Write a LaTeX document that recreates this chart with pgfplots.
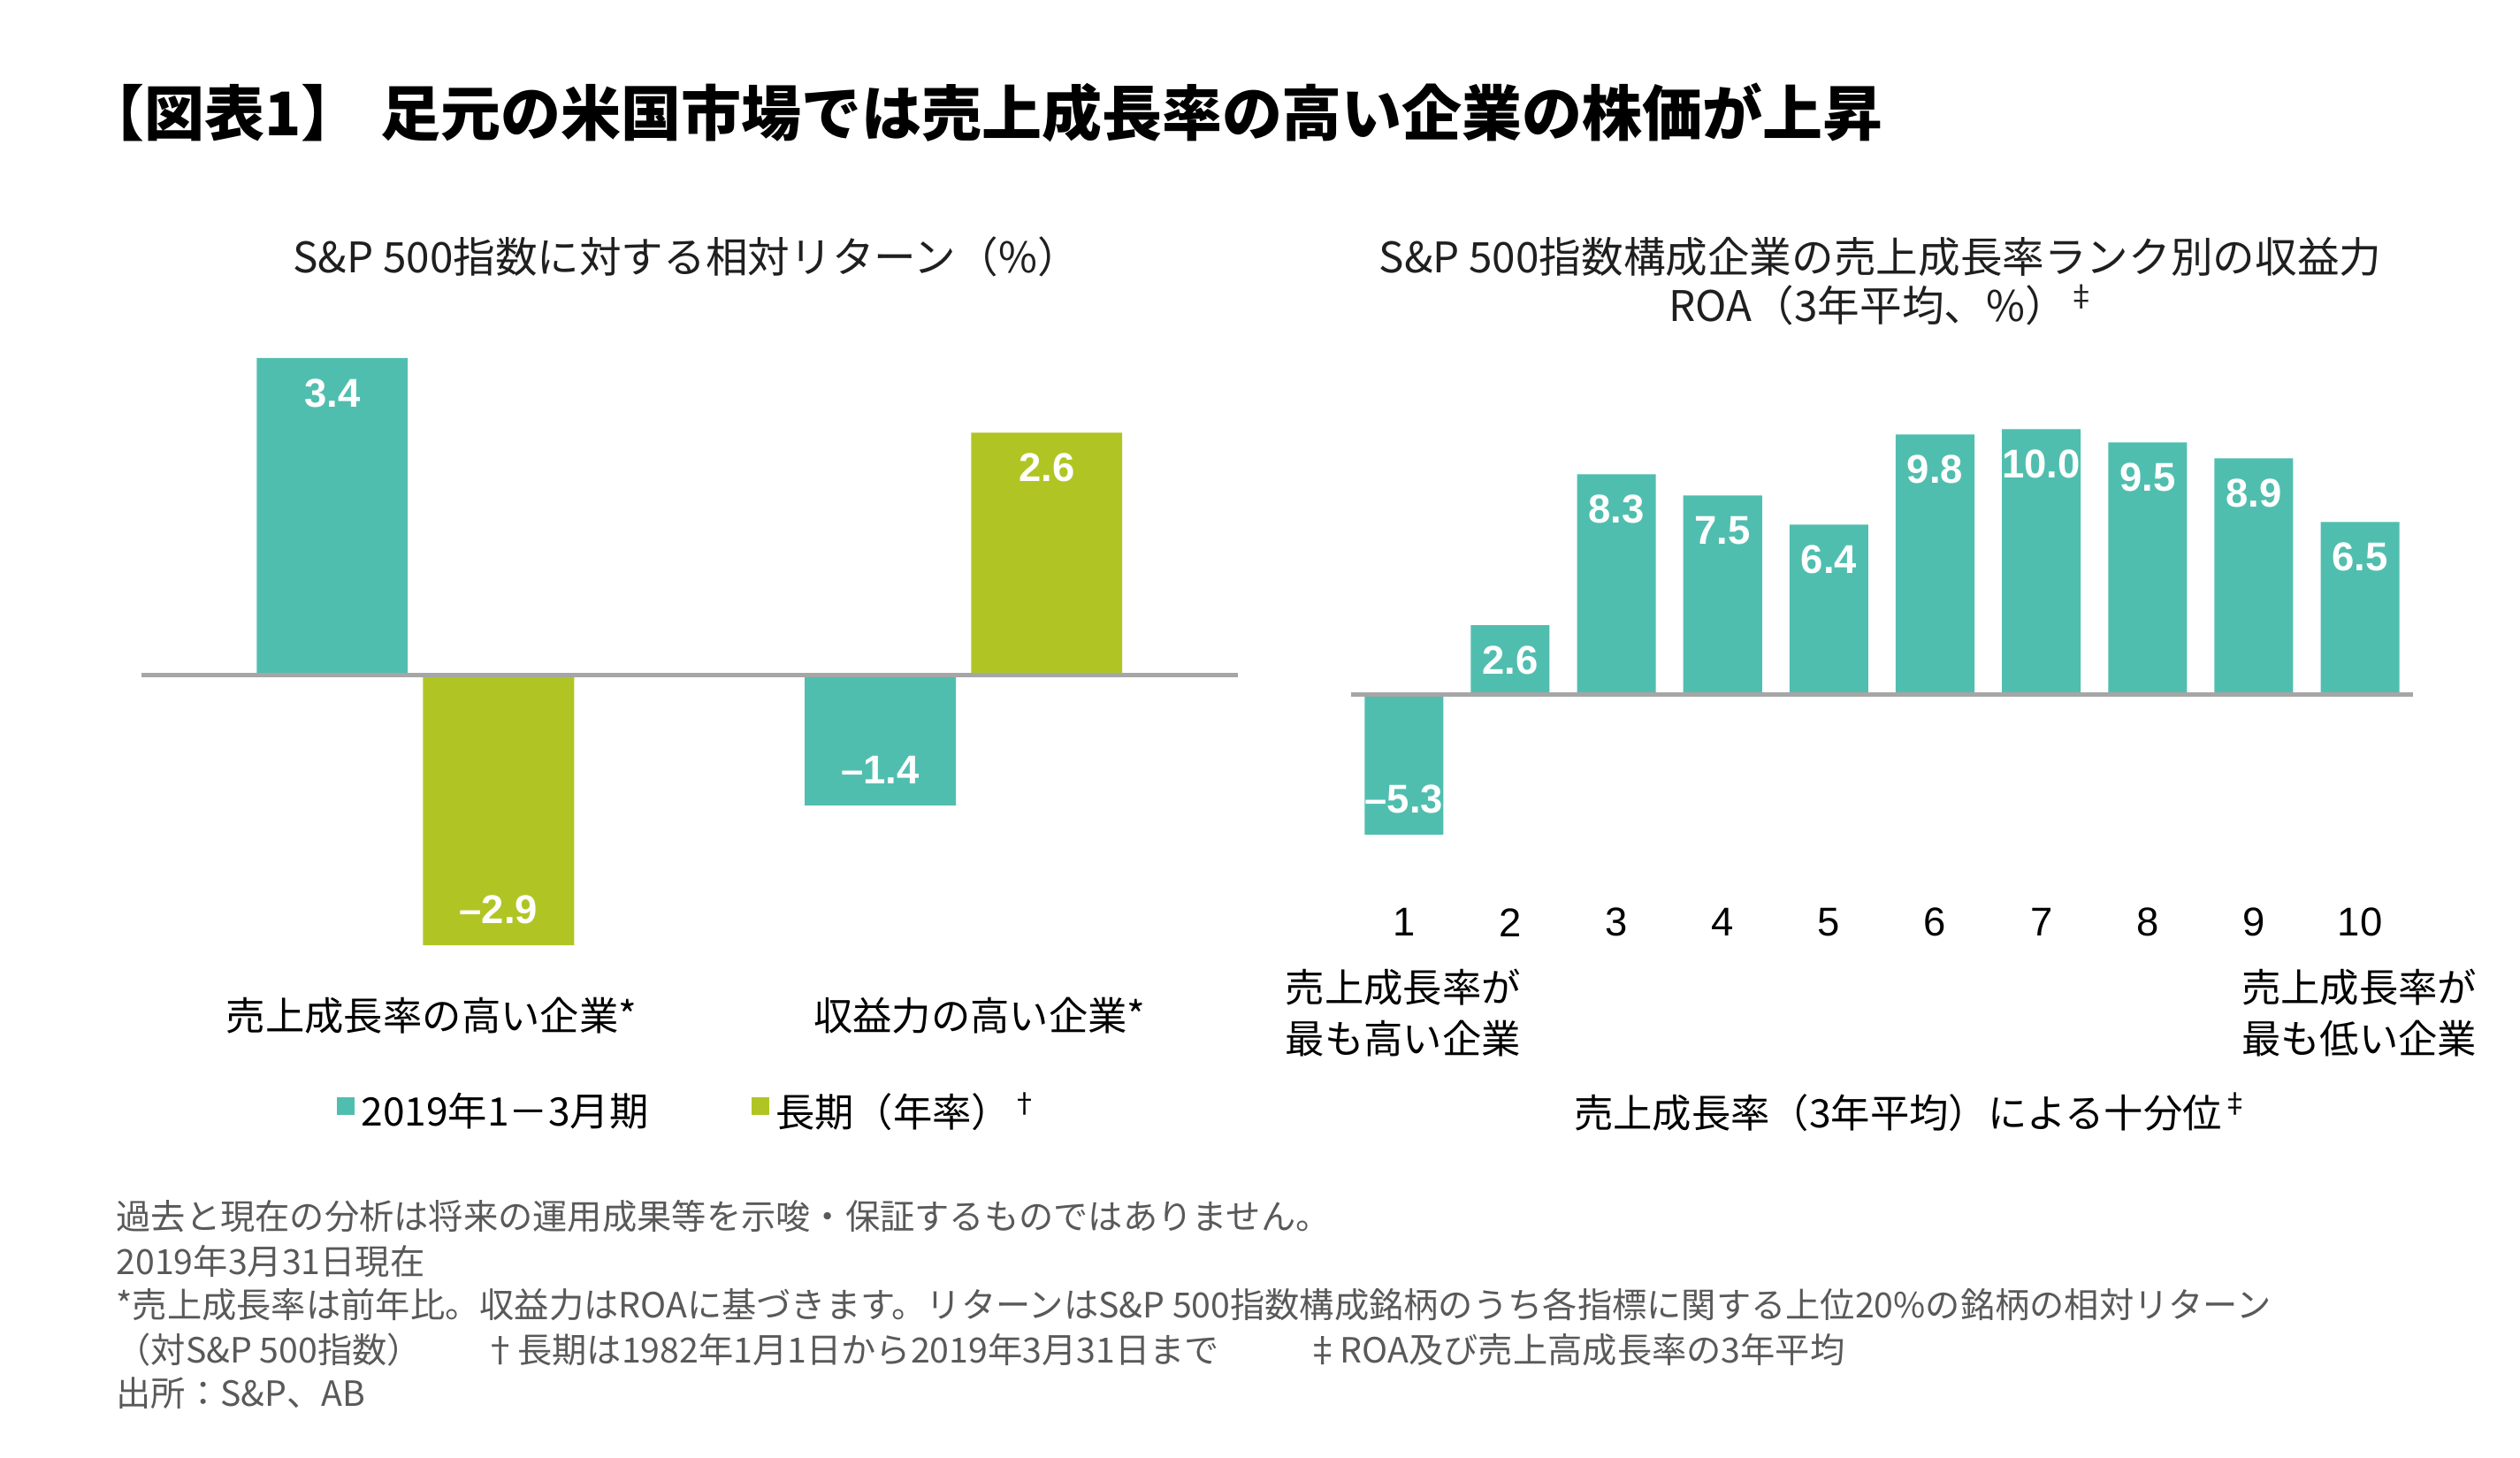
\documentclass[border=0pt]{standalone}
\usepackage{fontspec}
\usepackage{pgfplots}
\pgfplotsset{compat=1.18}
\setmainfont{Noto Sans CJK JP}
\newfontfamily\numfont{Liberation Sans}

\definecolor{barteal}{HTML}{50BEAF}
\definecolor{barlime}{HTML}{B0C524}
\definecolor{basegray}{HTML}{A6A6A6}
\definecolor{notegray}{HTML}{595959}

\newcommand{\lbl}{\fontsize{12.2}{16}\selectfont}
\newcommand{\ttl}{\fontsize{13.1}{15}\selectfont}
\newcommand{\nte}{\fontsize{10.8}{13}\selectfont}

\pgfplotsset{
  barlabels/.style={
    nodes near coords,
    point meta=explicit symbolic,
    visualization depends on=rawy \as \rawy,
    every node near coord/.append style={
      font=\numfont\bfseries\fontsize{12.5}{14}\selectfont,
      text=white, anchor=center,
      yshift={ifthenelse(\rawy>0,-11,11)}},
  },
  plain/.style={
    scale only axis, clip=false,
    axis line style={draw=none},
    ytick=\empty, major tick length=0pt,
  },
}

% node positions are in reference pixels (1568 x 907), y from the top;
% axes are placed in pt (1 px = 0.5pt)
\begin{document}
\begin{tikzpicture}[x=0.5pt,y=0.5pt]
\path[use as bounding box] (0,0) rectangle (1568,907);

\node[anchor=west, inner sep=0pt, font=\bfseries\fontsize{18.7}{22}\selectfont]
  at (52,{907-70}) {【図表1】\hspace{6pt}足元の米国市場では売上成長率の高い企業の株価が上昇};

% left chart
\node[font=\ttl, text=black!88] at (427,{907-160}) {S\&P 500指数に対する相対リターン（\%）};

\begin{axis}[plain,
  at={(44pt,156.5pt)}, anchor=south west,
  width=341pt, height=188.5pt,
  xmin=-0.5, xmax=1.5, ymin=-3, ymax=3.5,
  ybar=4.75pt, bar width=47pt,
  xtick={0,1},
  xticklabels={売上成長率の高い企業*, 収益力の高い企業*},
  xticklabel style={font=\lbl, anchor=center, yshift=-19pt, xshift=5pt},
  legend columns=2,
  legend style={at={(0.502,-0.26)}, anchor=center, draw=none, fill=none,
    font=\lbl, inner sep=0pt,
    /tikz/every even column/.append style={column sep=30pt}},
  legend image code/.code={\fill[#1] (0pt,-1pt) rectangle (5.5pt,4.5pt);},
]
\addplot[fill=barteal, draw=none, barlabels]
  coordinates {(0,3.4) [3.4] (1,-1.4) [–1.4]};
\addlegendentry{2019年1－3月期}
\addplot[fill=barlime, draw=none, barlabels]
  coordinates {(0,-2.9) [–2.9] (1,2.6) [2.6]};
\addlegendentry{長期（年率）\textsuperscript{†}}
\draw[basegray, line width=1.3pt] (axis cs:-0.5,0) -- (axis cs:1.5,0);
\end{axis}

% right chart
\node[font=\ttl, text=black!88] at (1170,{907-160}) {S\&P 500指数構成企業の売上成長率ランク別の収益力};
\node[font=\ttl, text=black!88] at (1172,{907-190}) {ROA（3年平均、\%）\textsuperscript{‡}};

\begin{axis}[plain,
  at={(420.25pt,188pt)}, anchor=south west,
  width=330.5pt, height=140.25pt,
  xmin=0.5, xmax=10.5, ymin=-6, ymax=11,
  ybar, bar width=24.5pt,
  xtick={1,2,3,4,5,6,7,8,9,10},
  xticklabels={1,2,3,4,5,6,7,8,9,10},
  xticklabel style={font=\numfont\fontsize{12.5}{14}\selectfont, anchor=center, yshift=-21.5pt},
]
\addplot[fill=barteal, draw=none, barlabels]
  coordinates {(1,-5.3) [–5.3] (2,2.6) [2.6] (3,8.3) [8.3] (4,7.5) [7.5]
    (5,6.4) [6.4] (6,9.8) [9.8] (7,10.0) [10.0] (8,9.5) [9.5]
    (9,8.9) [8.9] (10,6.5) [6.5]};
\draw[basegray, line width=1.3pt] (axis cs:0.5,0) -- (axis cs:10.5,0);
\end{axis}

\node[align=center, font=\lbl] at (873,{907-630}) {売上成長率が\\最も高い企業};
\node[align=center, font=\lbl] at (1468,{907-630}) {売上成長率が\\最も低い企業};
\node[font=\lbl] at (1190,{907-692}) {売上成長率（3年平均）による十分位\textsuperscript{‡}};

% notes
\begin{scope}[every node/.style={anchor=west, inner sep=0pt, font=\nte, text=notegray}]
\node at (72,{907-757}) {過去と現在の分析は将来の運用成果等を示唆・保証するものではありません。};
\node at (72,{907-785}) {2019年3月31日現在};
\node at (72,{907-812}) {*売上成長率は前年比。収益力はROAに基づきます。リターンはS\&P 500指数構成銘柄のうち各指標に関する上位20\%の銘柄の相対リターン};
\node at (72,{907-840}) {（対S\&P 500指数）};
\node at (300,{907-840}) {†長期は1982年1月1日から2019年3月31日まで};
\node at (812,{907-840}) {‡ROA及び売上高成長率の3年平均};
\node at (72,{907-867}) {出所：S\&P、AB};
\end{scope}
\end{tikzpicture}
\end{document}
